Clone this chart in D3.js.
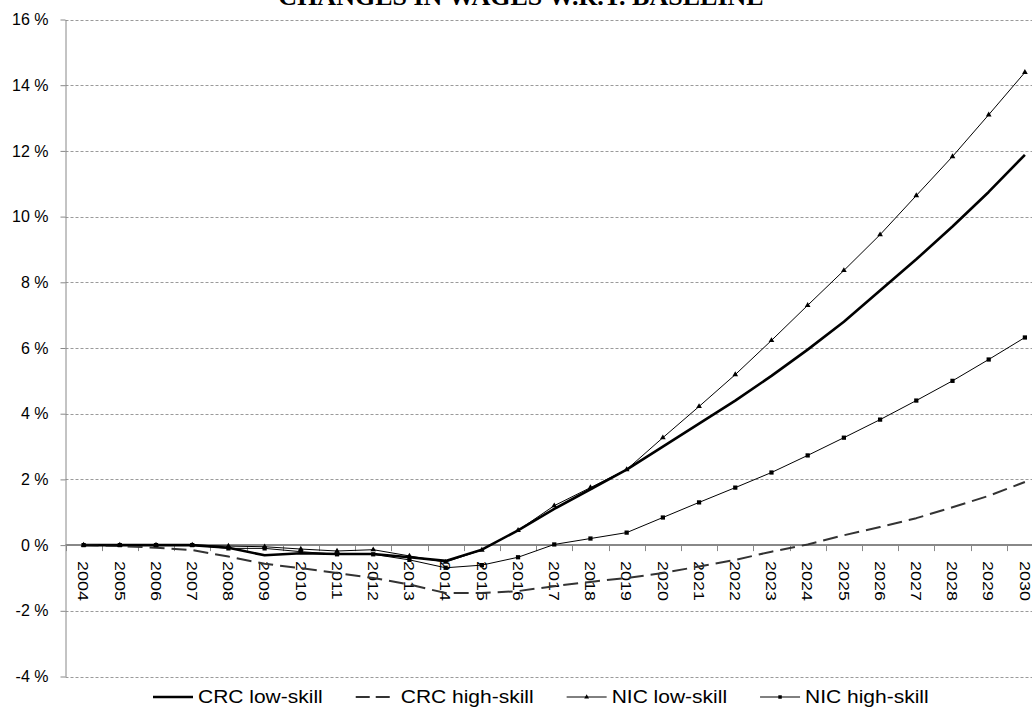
<!DOCTYPE html>
<html><head><meta charset="utf-8">
<script src="https://cdn.jsdelivr.net/npm/d3@7"></script>
<style>body{margin:0;background:#fff} svg{display:block}</style>
</head><body><svg id="c" width="1032" height="707"></svg>
<script>
const years = ["2004","2005","2006","2007","2008","2009","2010","2011","2012","2013","2014","2015","2016","2017","2018","2019","2020","2021","2022","2023","2024","2025","2026","2027","2028","2029","2030"];
const crcLow  = [0, 0, 0, 0, -0.08, -0.31, -0.25, -0.27, -0.27, -0.37, -0.48, -0.14, 0.45, 1.1, 1.7, 2.3, 3.0, 3.7, 4.4, 5.15, 5.95, 6.8, 7.75, 8.7, 9.7, 10.75, 11.88];
const crcHigh = [0, -0.03, -0.08, -0.15, -0.35, -0.57, -0.7, -0.85, -1.0, -1.2, -1.46, -1.46, -1.4, -1.25, -1.12, -1.0, -0.85, -0.65, -0.45, -0.2, 0.02, 0.3, 0.55, 0.82, 1.15, 1.5, 1.92];
const nicLow  = [0, 0, 0, 0, -0.03, -0.05, -0.12, -0.18, -0.14, -0.33, -0.52, -0.15, 0.45, 1.2, 1.75, 2.3, 3.27, 4.22, 5.19, 6.23, 7.3, 8.36, 9.45, 10.64, 11.83, 13.1, 14.39];
const nicHigh = [0, 0, 0, 0, -0.1, -0.1, -0.2, -0.28, -0.28, -0.45, -0.69, -0.61, -0.37, 0.02, 0.2, 0.38, 0.84, 1.3, 1.75, 2.21, 2.73, 3.27, 3.82, 4.4, 5.0, 5.65, 6.32];
const yTicks = [-4, -2, 0, 2, 4, 6, 8, 10, 12, 14, 16];
const seriesNames = ["CRC low-skill", "CRC high-skill", "NIC low-skill", "NIC high-skill"];
const title = "CHANGES IN WAGES W.R.T. BASELINE";

const W = 1032, H = 707;
const svg = d3.select("#c");
const m = {left: 65.5, right: 1043, top: 19.5, bottom: 676.5};
const x = d3.scaleBand().domain(years).range([m.left, m.right]);
const y = d3.scaleLinear().domain([-4, 16]).range([m.bottom, m.top]);
const bw = x.bandwidth();
const cx = d => x(d) + bw / 2;

// title
svg.append("text").attr("x", 521).attr("y", 5).attr("text-anchor", "middle")
  .attr("font-family", "'Liberation Serif','Times New Roman',serif")
  .attr("font-weight", "bold").attr("font-size", 26).text(title);

// grid
svg.append("g").selectAll("line").data(yTicks.filter(d => d !== 0)).join("line")
  .attr("x1", m.left).attr("x2", W).attr("y1", d => Math.round(y(d)) + 0.5).attr("y2", d => Math.round(y(d)) + 0.5)
  .attr("stroke", "#9a9a9a").attr("stroke-width", 1).attr("stroke-dasharray", "3,2");

// y axis
const ya = svg.append("g").attr("transform", `translate(${m.left},0)`)
  .call(d3.axisLeft(y).tickValues(yTicks).tickSize(5).tickSizeOuter(0).tickPadding(12).tickFormat(d => d + " %"));
ya.select(".domain").attr("stroke", "#888");
ya.selectAll(".tick line").attr("stroke", "#888");
ya.selectAll(".tick text").attr("font-family", "Arial, 'Liberation Sans', sans-serif").attr("font-size", 16).attr("fill", "#000");

// x axis at zero
const y0 = y(0);
svg.append("line").attr("x1", m.left).attr("x2", W).attr("y1", y0).attr("y2", y0)
  .attr("stroke", "#888").attr("stroke-width", 2);
svg.append("g").selectAll("line").data(years).join("line")
  .attr("x1", d => Math.round(x(d)) + 0.5).attr("x2", d => Math.round(x(d)) + 0.5)
  .attr("y1", y0).attr("y2", y0 + 6).attr("stroke", "#888");
svg.append("g").selectAll("text").data(years).join("text")
  .attr("transform", d => `translate(${cx(d)},${y0 + 16}) rotate(90) scale(1.28,1)`)
  .attr("dominant-baseline", "central").attr("text-anchor", "start")
  .attr("font-family", "Arial, 'Liberation Sans', sans-serif").attr("font-size", 14).attr("fill", "#000")
  .text(d => d);

// lines
const line = d3.line().x((d, i) => cx(years[i])).y(d => y(d));
const series = [
  {name: seriesNames[0], vals: crcLow, stroke: "#000", w: 2.6, dash: null, marker: null},
  {name: seriesNames[1], vals: crcHigh, stroke: "#333", w: 2, dash: "15,7", marker: null},
  {name: seriesNames[2], vals: nicLow, stroke: "#000", w: 1, dash: null, marker: "tri"},
  {name: seriesNames[3], vals: nicHigh, stroke: "#000", w: 1, dash: null, marker: "sq"}
];
const tri = d3.symbol().type(d3.symbolTriangle).size(14);
const sq = d3.symbol().type(d3.symbolSquare).size(18);
series.forEach(s => {
  svg.append("path").datum(s.vals).attr("d", line).attr("fill", "none")
    .attr("stroke", s.stroke).attr("stroke-width", s.w).attr("stroke-dasharray", s.dash)
    .attr("stroke-linejoin", "round");
  if (s.marker) {
    svg.append("g").selectAll("path").data(s.vals).join("path")
      .attr("transform", (d, i) => `translate(${cx(years[i])},${y(d)})`)
      .attr("d", s.marker === "tri" ? tri : sq).attr("fill", "#000");
  }
});

// legend
const lg = svg.append("g");
let lx = 153;
const ly = 697;
series.forEach(s => {
  lg.append("line").attr("x1", lx).attr("x2", lx + 40).attr("y1", ly).attr("y2", ly)
    .attr("stroke", s.stroke).attr("stroke-width", s.w === 2.6 ? 2.4 : s.w).attr("stroke-dasharray", s.dash ? "14,6" : null);
  if (s.marker) {
    lg.append("path").attr("transform", `translate(${lx + 20},${ly})`)
      .attr("d", s.marker === "tri" ? d3.symbol().type(d3.symbolTriangle).size(10) : d3.symbol().type(d3.symbolSquare).size(12)).attr("fill", "#000");
  }
  const t = lg.append("text").attr("transform", `translate(${lx + 45},${ly}) scale(1.2,1)`)
    .attr("dominant-baseline", "central")
    .attr("font-family", "Arial, 'Liberation Sans', sans-serif").attr("font-size", 17.5).attr("fill", "#000")
    .text(s.name);
  const tw = t.node().getComputedTextLength() * 1.2;
  lx = lx + 45 + tw + 33;
});
</script></body></html>
